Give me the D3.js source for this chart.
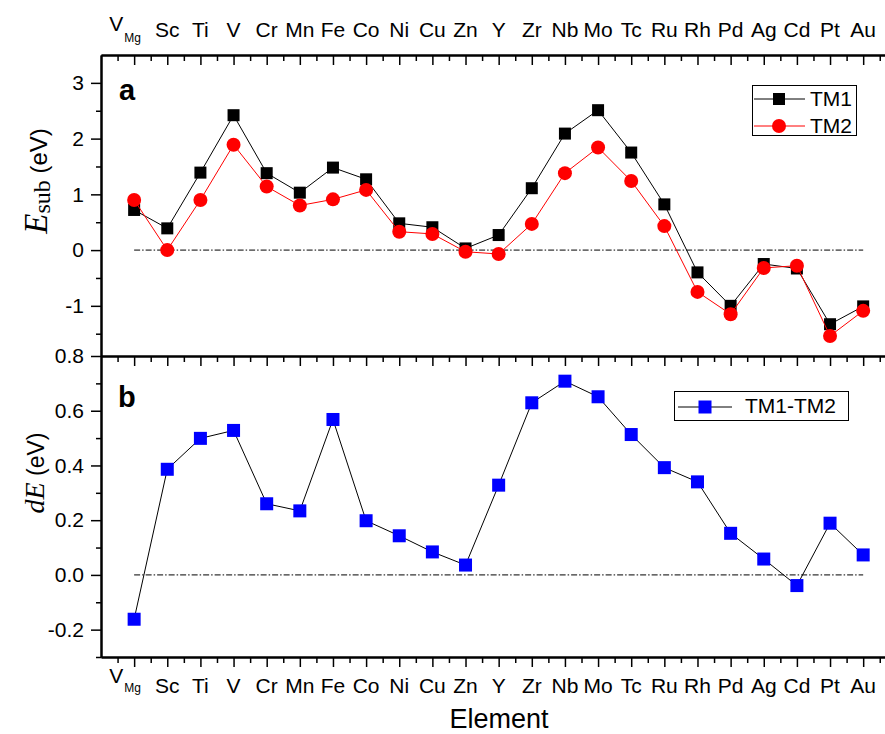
<!DOCTYPE html>
<html>
<head>
<meta charset="utf-8">
<script src="https://cdn.jsdelivr.net/npm/d3@7"></script>
<style>
  body { margin: 0; background: white; }
  svg text { font-family: "Liberation Sans", Arial, sans-serif; }
</style>
</head>
<body>
<script>
// element names along the x axis (first one is the Mg vacancy)
var elements = ["VMg", "Sc", "Ti", "V", "Cr", "Mn", "Fe", "Co", "Ni", "Cu", "Zn", "Y",
                "Zr", "Nb", "Mo", "Tc", "Ru", "Rh", "Pd", "Ag", "Cd", "Pt", "Au"];

// substitution energies (eV), panel a
var tm1 = [0.72, 0.39, 1.39, 2.42, 1.38, 1.03, 1.48, 1.27, 0.48, 0.41, 0.03, 0.27,
           1.11, 2.09, 2.51, 1.75, 0.82, -0.40, -1.00, -0.25, -0.33, -1.33, -1.01];
var tm2 = [0.90, 0.00, 0.90, 1.89, 1.14, 0.80, 0.91, 1.08, 0.33, 0.29, -0.03, -0.07,
           0.47, 1.38, 1.84, 1.24, 0.43, -0.75, -1.15, -0.32, -0.28, -1.54, -1.09];

// difference TM1-TM2 (eV), panel b
var dE = [-0.162, 0.386, 0.499, 0.528, 0.26, 0.234, 0.568, 0.198, 0.143, 0.084, 0.036, 0.328,
          0.629, 0.708, 0.651, 0.513, 0.392, 0.34, 0.152, 0.058, -0.039, 0.189, 0.073];

var ticksA = [-1, 0, 1, 2, 3];
var ticksB = [-0.2, 0.0, 0.2, 0.4, 0.6, 0.8];

var width = 885, height = 734;

var svg = d3.select("body").append("svg")
    .attr("width", width)
    .attr("height", height);

var x = d3.scaleLinear().domain([-1, 22.9]).range([101, 893]);
var yA = d3.scaleLinear().domain([-1.9, 3.5]).range([356, 55]);
var yB = d3.scaleLinear().domain([-0.3, 0.8]).range([657, 356]);

var idx = d3.range(elements.length);
var halfTicks = d3.range(-0.5, 23, 1);

function styleAxis(g) {
  g.selectAll("path").attr("stroke", "black").attr("stroke-width", 2);
  g.selectAll("line").attr("stroke", "black").attr("stroke-width", 1.5);
  g.selectAll("text").style("font-size", "21px").attr("fill", "black");
}

// hyphen minus like the original
function fmtWith(spec) {
  var f = d3.format(spec);
  return function(d) { return f(d).replace("\u2212", "-"); };
}

// x axes: top of a (inward), shared middle, bottom of b (outward)
[55, 356, 657].forEach(function(yy) {
  svg.append("g").attr("transform", "translate(0," + yy + ")")
    .call(d3.axisBottom(x).tickValues(idx).tickSize(10).tickSizeOuter(0).tickFormat(""))
    .call(styleAxis);
  svg.append("g").attr("transform", "translate(0," + yy + ")")
    .call(d3.axisBottom(x).tickValues(halfTicks).tickSize(6).tickSizeOuter(0).tickFormat(""))
    .call(styleAxis);
});

// y axes left + right
function yAxes(y, major, minor, fmt) {
  svg.append("g").attr("transform", "translate(101,0)")
    .call(d3.axisLeft(y).tickValues(major).tickSize(10).tickSizeOuter(0).tickPadding(7).tickFormat(fmt))
    .call(styleAxis);
  svg.append("g").attr("transform", "translate(101,0)")
    .call(d3.axisLeft(y).tickValues(minor).tickSize(5).tickSizeOuter(0).tickFormat(""))
    .call(styleAxis);
  svg.append("g").attr("transform", "translate(893,0)")
    .call(d3.axisLeft(y).tickValues(major).tickSize(-10).tickSizeOuter(0).tickFormat(""))
    .call(styleAxis);
  svg.append("g").attr("transform", "translate(893,0)")
    .call(d3.axisLeft(y).tickValues(minor).tickSize(-5).tickSizeOuter(0).tickFormat(""))
    .call(styleAxis);
}
yAxes(yA, ticksA, [-1.5, -0.5, 0.5, 1.5, 2.5], fmtWith("d"));
yAxes(yB, ticksB, [-0.3, -0.1, 0.1, 0.3, 0.5, 0.7], fmtWith(".1f"));

// element labels top and bottom
function elementLabels(base, vRaise, mgBase) {
  var g = svg.append("g");
  g.selectAll("text.el")
    .data(elements.slice(1))
    .enter().append("text")
    .attr("x", function(d, i) { return x(i + 1); })
    .attr("y", base)
    .attr("text-anchor", "middle")
    .style("font-size", "21px")
    .text(function(d) { return d; });
  var t = g.append("text").attr("x", x(0) - 25).attr("y", base - vRaise).style("font-size", "21px");
  t.append("tspan").text("V");
  t.append("tspan").attr("dy", mgBase + vRaise).attr("dx", 1).style("font-size", "12px").text("Mg");
}
elementLabels(36.7, 6, 5);
elementLabels(693, 10, -1);

// zero lines
[[yA, 0], [yB, 0]].forEach(function(p) {
  svg.append("line")
    .attr("x1", x(0)).attr("x2", x(22))
    .attr("y1", p[0](p[1])).attr("y2", p[0](p[1]))
    .attr("stroke", "black").attr("stroke-width", 1)
    .attr("stroke-dasharray", "6,2,1.5,2");
});

var lineA = d3.line().x(function(d, i) { return x(i); }).y(function(d) { return yA(d); });
var lineB = d3.line().x(function(d, i) { return x(i); }).y(function(d) { return yB(d); });

// TM1
svg.append("path").datum(tm1).attr("d", lineA)
  .attr("fill", "none").attr("stroke", "black").attr("stroke-width", 1);
svg.append("g").selectAll("rect").data(tm1).enter().append("rect")
  .attr("x", function(d, i) { return x(i) - 6; })
  .attr("y", function(d) { return yA(d) - 6; })
  .attr("width", 12).attr("height", 12)
  .attr("fill", "black");

// TM2
svg.append("path").datum(tm2).attr("d", lineA)
  .attr("fill", "none").attr("stroke", "red").attr("stroke-width", 1);
svg.append("g").selectAll("circle").data(tm2).enter().append("circle")
  .attr("cx", function(d, i) { return x(i); })
  .attr("cy", function(d) { return yA(d); })
  .attr("r", 7)
  .attr("fill", "red");

// TM1-TM2
svg.append("path").datum(dE).attr("d", lineB)
  .attr("fill", "none").attr("stroke", "black").attr("stroke-width", 1);
svg.append("g").selectAll("rect").data(dE).enter().append("rect")
  .attr("x", function(d, i) { return x(i) - 6.5; })
  .attr("y", function(d) { return yB(d) - 6.5; })
  .attr("width", 13).attr("height", 13)
  .attr("fill", "blue");

// panel letters
svg.append("text").attr("x", 119).attr("y", 100).style("font-size", "29px")
  .style("font-weight", "bold").text("a");
svg.append("text").attr("x", 118).attr("y", 407).style("font-size", "29px")
  .style("font-weight", "bold").text("b");

// legend a
svg.append("rect").attr("x", 752.5).attr("y", 85.5).attr("width", 104).attr("height", 50)
  .attr("fill", "white").attr("stroke", "black").attr("stroke-width", 1);
svg.append("line").attr("x1", 754).attr("x2", 805).attr("y1", 99).attr("y2", 99)
  .attr("stroke", "black");
svg.append("rect").attr("x", 773).attr("y", 93).attr("width", 12).attr("height", 12).attr("fill", "black");
svg.append("text").attr("x", 810).attr("y", 106).style("font-size", "21px").text("TM1");
svg.append("line").attr("x1", 754).attr("x2", 805).attr("y1", 126).attr("y2", 126)
  .attr("stroke", "red");
svg.append("circle").attr("cx", 779).attr("cy", 126).attr("r", 7).attr("fill", "red");
svg.append("text").attr("x", 810).attr("y", 133).style("font-size", "21px").text("TM2");

// legend b
svg.append("rect").attr("x", 674.5).attr("y", 391.5).attr("width", 174).attr("height", 29)
  .attr("fill", "white").attr("stroke", "black").attr("stroke-width", 1);
svg.append("line").attr("x1", 678).attr("x2", 732).attr("y1", 407).attr("y2", 407)
  .attr("stroke", "black");
svg.append("rect").attr("x", 698.5).attr("y", 400.5).attr("width", 13).attr("height", 13).attr("fill", "blue");
svg.append("text").attr("x", 745).attr("y", 413).style("font-size", "21px").text("TM1-TM2");

// y titles
var serif = "'Liberation Serif', 'Times New Roman', serif";
var ta = svg.append("text").attr("transform", "translate(47,181) rotate(-90)")
  .attr("text-anchor", "middle");
ta.append("tspan").style("font-family", serif)
  .style("font-style", "italic").style("font-size", "33px").text("E");
ta.append("tspan").attr("dy", 3).style("font-family", serif)
  .style("font-size", "24px").text("sub");
ta.append("tspan").attr("dy", -3).style("font-size", "24px").text(" (eV)");

var tb = svg.append("text").attr("transform", "translate(44,473) rotate(-90)")
  .attr("text-anchor", "middle");
tb.append("tspan").style("font-family", serif)
  .style("font-style", "italic").style("font-size", "28px").text("dE");
tb.append("tspan").style("font-size", "23px").text(" (eV)");

// x title
svg.append("text").attr("x", 499).attr("y", 728).attr("text-anchor", "middle")
  .style("font-size", "27px").text("Element");
</script>
</body>
</html>
